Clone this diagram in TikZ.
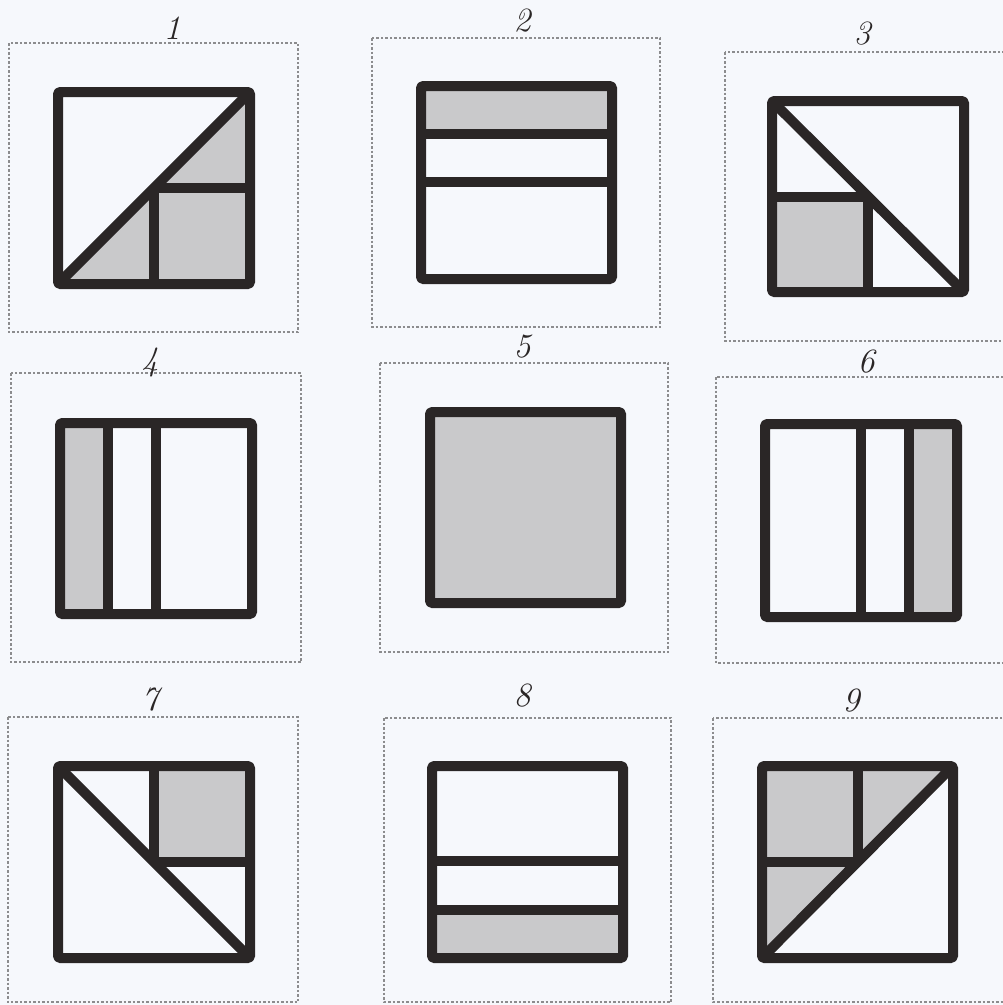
\documentclass[tikz,border=0pt]{standalone}
\usetikzlibrary{calc}
\definecolor{bgc}{HTML}{F6F8FC}
\definecolor{ink}{HTML}{2A2626}
\definecolor{shade}{HTML}{C9C9CB}
\definecolor{dashc}{HTML}{8C8C8E}
\tikzset{
  frame/.style={draw=dashc, line width=1.1pt, dash pattern=on 2.5pt off 2pt},
  sq/.style={draw=ink, line width=10pt, line join=round, rounded corners=1.5pt},
  bar/.style={draw=ink, line width=10pt},
  fillg/.style={fill=shade},
  lab/.style={font=\fontsize{34}{34}\selectfont\itshape, text=ink, inner sep=0pt}
}
\begin{document}
\begin{tikzpicture}[x=1pt,y=-1pt]
\useasboundingbox (0,0) rectangle (1003,1005);
\fill[bgc] (0,0) rectangle (1003,1005);
\clip (0,0) rectangle (1003,1005);

% ---------- dashed frames ----------
\draw[frame] (9,43) rectangle (298,332);
\draw[frame] (372,38) rectangle (660,327);
\draw[frame] (725,52) rectangle (1010,341);
\draw[frame] (11,373) rectangle (301,662);
\draw[frame] (380,363) rectangle (668,652);
\draw[frame] (716,377) rectangle (1010,663);
\draw[frame] (8,717) rectangle (298,1002);
\draw[frame] (384,718) rectangle (671,1002);
\draw[frame] (713,718) rectangle (1010,1002);

% ---------- labels ----------
\node[lab] (l1) at (172,28) {1};
\node[lab] (l2) at (522,21) {2};
\node[lab] (l3) at (862,34) {3};
\node[lab] (l4) at (150,362) {4};
\node[lab] (l5) at (522,347) {5};
\node[lab] (l6) at (866,362) {6};
\node[lab] (l7) at (150,700) {7};
\node[lab] (l8) at (522,696) {8};
\node[lab] (l9) at (851,701) {9};

% ---------- panel 1 ----------
\fill[fillg] (58,284) -- (250,92) -- (250,284) -- cycle;
\draw[bar] (58,284) -- (250,92);
\draw[bar] (154,188) -- (154,284);
\draw[bar] (154,188) -- (250,188);
\draw[sq] (58,92) rectangle (250,284);

% ---------- panel 2 ----------
\fill[fillg] (421,86) rectangle (612,133.5);
\draw[bar] (421,133.5) -- (612,133.5);
\draw[bar] (421,182) -- (612,182);
\draw[sq] (421,86) rectangle (612,279);

% ---------- panel 3 ----------
\fill[fillg] (772,196.5) rectangle (868,292);
\draw[bar] (772,101) -- (964,292);
\draw[bar] (772,196.5) -- (868,196.5);
\draw[bar] (868,196.5) -- (868,292);
\draw[sq] (772,101) rectangle (964,292);

% ---------- panel 4 ----------
\fill[fillg] (60,423) rectangle (108,614);
\draw[bar] (108,423) -- (108,614);
\draw[bar] (155.5,423) -- (155.5,614);
\draw[sq] (60,423) rectangle (252,614);

% ---------- panel 5 ----------
\fill[fillg] (430,412) rectangle (621,603);
\draw[sq] (430,412) rectangle (621,603);

% ---------- panel 6 ----------
\fill[fillg] (909,424) rectangle (957,617);
\draw[bar] (861,424) -- (861,617);
\draw[bar] (909,424) -- (909,617);
\draw[sq] (765,424) rectangle (957,617);

% ---------- panel 7 ----------
\fill[fillg] (154,766) rectangle (250,862);
\draw[bar] (58,766) -- (250,958);
\draw[bar] (154,766) -- (154,862);
\draw[bar] (154,862) -- (250,862);
\draw[sq] (58,766) rectangle (250,958);

% ---------- panel 8 ----------
\fill[fillg] (432,910) rectangle (623,958);
\draw[bar] (432,861) -- (623,861);
\draw[bar] (432,910) -- (623,910);
\draw[sq] (432,766) rectangle (623,958);

% ---------- panel 9 ----------
\fill[fillg] (762,958) -- (953,766) -- (762,766) -- cycle;
\draw[bar] (762,958) -- (953,766);
\draw[bar] (858,766) -- (858,862);
\draw[bar] (762,862) -- (858,862);
\draw[sq] (762,766) rectangle (953,958);
\end{tikzpicture}
\end{document}
